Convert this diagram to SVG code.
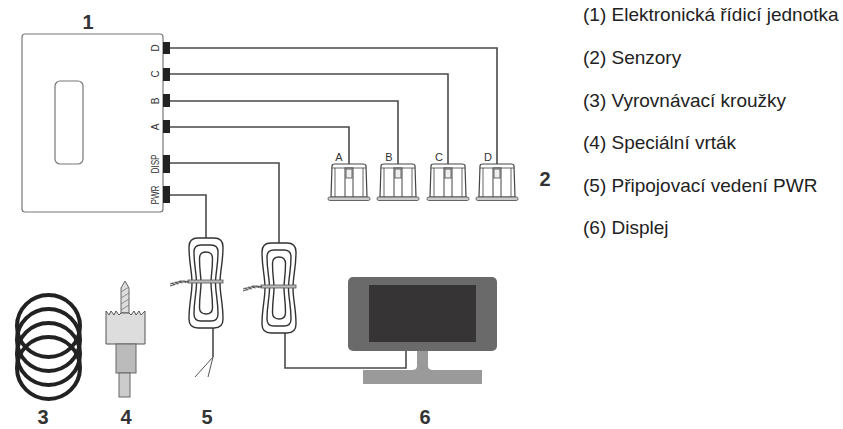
<svg xmlns="http://www.w3.org/2000/svg" width="843" height="429" viewBox="0 0 843 429">
  <style>
    .wire { fill: none; stroke: #4a4a4a; stroke-width: 1.6; }
    .thin { fill: none; stroke: #555; stroke-width: 1; }
    .legend { font-family: "Liberation Sans", Arial, sans-serif; font-size: 19px; fill: #222; }
    .num { font-family: "Liberation Sans", Arial, sans-serif; font-size: 20px; font-weight: bold; fill: #333; text-anchor: middle; }
    .port { font-family: "Liberation Sans", Arial, sans-serif; font-size: 10px; fill: #333; text-anchor: middle; }
    .slabel { font-family: "Liberation Sans", Arial, sans-serif; font-size: 11px; fill: #333; text-anchor: middle; }
    .plug { fill: #222; }
    .loop { fill: none; stroke: #333; stroke-width: 1.4; }
    .ring { fill: none; stroke: #222; stroke-width: 4; }
  </style>
  <defs>
    <!-- parking sensor, origin at top centre -->
    <g id="sensor">
      <path d="M -17,2 Q -17,0 -14,0 L 14,0 Q 17,0 17,2 L 18,33 L -18,33 Z" fill="#fff" stroke="#444" stroke-width="1.2"/>
      <path d="M -17,4 L 17,4 M -14,4 L -14,33 M 14,4 L 14,33" fill="none" stroke="#555" stroke-width="0.9"/>
      <rect x="-4" y="4" width="8" height="29" fill="#fff" stroke="#444" stroke-width="1"/>
      <rect x="-3" y="5" width="6" height="9" fill="#eee" stroke="#444" stroke-width="0.8"/>
      <rect x="-21" y="33" width="42" height="3.5" rx="1.7" fill="#ccc" stroke="#555" stroke-width="0.9"/>
    </g>
    <!-- coiled cable bundle, origin at centre -->
    <g id="coil">
      <path class="loop" d="M -8,-45 L 8,-45 Q 17,-45 17,-36 C 17,-20 14,-12 14,0 C 14,12 17,20 17,36 Q 17,45 8,45 L -8,45 Q -17,45 -17,36 C -17,20 -14,12 -14,0 C -14,-12 -17,-20 -17,-36 Q -17,-45 -8,-45 Z"/>
      <path class="loop" d="M -5,-38 L 5,-38 Q 12,-38 12,-31 C 12,-17 9.5,-10 9.5,0 C 9.5,10 12,17 12,31 Q 12,38 5,38 L -5,38 Q -12,38 -12,31 C -12,17 -9.5,10 -9.5,0 C -9.5,-10 -12,-17 -12,-31 Q -12,-38 -5,-38 Z"/>
      <path class="loop" d="M 0,-31 Q 6.5,-31 6.5,-24.5 C 6.5,-12 5,-8 5,0 C 5,8 6.5,12 6.5,24.5 Q 6.5,31 0,31 Q -6.5,31 -6.5,24.5 C -6.5,12 -5,8 -5,0 C -5,-8 -6.5,-12 -6.5,-24.5 Q -6.5,-31 0,-31 Z"/>
      <!-- tie with twisted ends -->
      <rect x="-18" y="-3" width="35" height="3" fill="#bbb" stroke="#555" stroke-width="0.8"/>
      <path d="M -36,1 L -30,-0.5 L -25,-2 L -17,-1.5 M -36,3 L -29,0.5 L -24,-1 L -17,-1 M -34,-0.5 L -32,2.5 M -30,-1.5 L -28,1.5 M -26,-2.5 L -24,0.5 M -22,-2.5 L -20,0" fill="none" stroke="#555" stroke-width="1"/>
    </g>
  </defs>

  <!-- connectors -->
  <g id="connectors">
    <path class="wire" d="M 170,48 L 497,48 L 497,164"/>
    <path class="wire" d="M 170,74 L 448,74 L 448,164"/>
    <path class="wire" d="M 170,101 L 398,101 L 398,164"/>
    <path class="wire" d="M 170,127 L 349,127 L 349,164"/>
    <path class="wire" d="M 170,163 L 279,163 L 279,243"/>
    <path class="wire" d="M 170,195 L 206,195 L 206,238"/>
    <path class="wire" d="M 285,333 L 285,368 L 406,368 L 406,351"/>
    <path class="wire" d="M 213,328 L 213,357"/>
    <path class="thin" d="M 213,357 L 195,377 M 213,357 L 208,377"/>
  </g>

  <!-- (1) control unit -->
  <g id="unit">
    <rect x="22" y="34" width="141" height="178" rx="3" fill="#fff" stroke="#777" stroke-width="1.2"/>
    <rect x="55" y="81" width="28" height="83" rx="5" fill="#fff" stroke="#777" stroke-width="1.2"/>
    <rect class="plug" x="163" y="42" width="7" height="12"/>
    <rect class="plug" x="163" y="68" width="7" height="13"/>
    <rect class="plug" x="163" y="94" width="7" height="13"/>
    <rect class="plug" x="163" y="120" width="7" height="13"/>
    <rect class="plug" x="163" y="155" width="7" height="18"/>
    <rect class="plug" x="163" y="186" width="7" height="17"/>
    <text class="port" transform="translate(159,48) rotate(-90)">D</text>
    <text class="port" transform="translate(159,74) rotate(-90)">C</text>
    <text class="port" transform="translate(159,101) rotate(-90)">B</text>
    <text class="port" transform="translate(159,127) rotate(-90)">A</text>
    <text class="port" transform="translate(159,164) rotate(-90)" textLength="19" lengthAdjust="spacingAndGlyphs">DISP</text>
    <text class="port" transform="translate(159,195) rotate(-90)" textLength="19" lengthAdjust="spacingAndGlyphs">PWR</text>
    <text class="num" x="88" y="29">1</text>
  </g>

  <!-- (2) sensors -->
  <g id="sensors">
    <use href="#sensor" transform="translate(349,164)"/>
    <use href="#sensor" transform="translate(398,164)"/>
    <use href="#sensor" transform="translate(448,164)"/>
    <use href="#sensor" transform="translate(497,164)"/>
    <text class="slabel" x="339" y="161">A</text>
    <text class="slabel" x="389" y="161">B</text>
    <text class="slabel" x="439" y="161">C</text>
    <text class="slabel" x="488" y="161">D</text>
    <text class="num" x="545" y="186">2</text>
  </g>

  <!-- (3) rings -->
  <g id="rings">
    <ellipse class="ring" cx="48.5" cy="326" rx="31.5" ry="31"/>
    <ellipse class="ring" cx="48.5" cy="340" rx="31.5" ry="31"/>
    <ellipse class="ring" cx="48.5" cy="354" rx="31.5" ry="31"/>
    <ellipse class="ring" cx="48.5" cy="368" rx="31.5" ry="31"/>
    <text class="num" x="43" y="424">3</text>
  </g>

  <!-- (4) hole saw -->
  <g id="drill">
    <path d="M 121,313 L 121,288 L 125,281 L 129,288 L 129,313 Z" fill="#ddd" stroke="#666" stroke-width="1"/>
    <path d="M 121,292 L 129,287 M 121,298 L 129,293 M 121,304 L 129,299 M 121,310 L 129,305" fill="none" stroke="#777" stroke-width="0.8"/>
    <path d="M 106,344 L 106,311 L 109,315 L 111,311 L 114,315 L 116,311 L 119,315 L 121,313 L 129,313 L 131,315 L 134,311 L 136,315 L 139,311 L 141,315 L 145,311 L 145,344 Z" fill="#ddd" stroke="#555" stroke-width="1"/>
    <rect x="116" y="344" width="20" height="29" fill="#bbb" stroke="#666" stroke-width="1"/>
    <rect x="119" y="373" width="11" height="24" fill="#ccc" stroke="#666" stroke-width="1"/>
    <text class="num" x="126" y="424">4</text>
  </g>

  <!-- (5) power cable -->
  <g id="power-cable">
    <use href="#coil" transform="translate(206,283)"/>
    <text class="num" x="207" y="424">5</text>
  </g>

  <!-- display cable coil -->
  <g id="display-cable">
    <use href="#coil" transform="translate(279,288)"/>
  </g>

  <!-- (6) display -->
  <g id="display">
    <rect x="348" y="277" width="149" height="74" rx="5" fill="#6a6a6a"/>
    <rect x="369" y="285" width="107" height="57" fill="#363435"/>
    <path d="M 417,351 L 428,351 L 428,366 Q 428,370 433,370 L 412,370 Q 417,370 417,366 Z" fill="#9a9a9a"/>
    <rect x="363" y="370" width="119" height="14" fill="#9a9a9a"/>
    <text class="num" x="425" y="424">6</text>
  </g>

  <!-- legend -->
  <g id="legend">
    <text class="legend" x="583" y="21">(1) Elektronická řídicí jednotka</text>
    <text class="legend" x="583" y="64">(2) Senzory</text>
    <text class="legend" x="583" y="107">(3) Vyrovnávací kroužky</text>
    <text class="legend" x="583" y="149">(4) Speciální vrták</text>
    <text class="legend" x="583" y="192">(5) Připojovací vedení PWR</text>
    <text class="legend" x="583" y="234">(6) Displej</text>
  </g>
</svg>
